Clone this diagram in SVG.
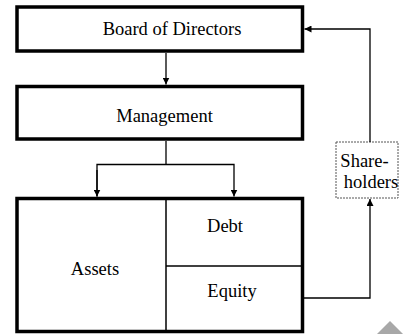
<svg xmlns="http://www.w3.org/2000/svg" width="403" height="334" viewBox="0 0 403 334">
<defs>
<style>
.box{fill:#fff;stroke:#000;stroke-width:3.5}
.div{fill:none;stroke:#000;stroke-width:1.5}
.lbl{font-family:"Liberation Serif","Times New Roman",serif;font-size:18.5px;fill:#000;text-anchor:middle}
.con{fill:none;stroke:#000;stroke-width:1.3}
.sh{fill:#fff;stroke:#555;stroke-width:1;stroke-dasharray:2 1}
</style>
<marker id="ah" viewBox="0 0 8 8" refX="8" refY="4" markerWidth="7" markerHeight="7" markerUnits="userSpaceOnUse" orient="auto">
<path d="M0,0 L8,4 L0,8 Z" fill="#000"/>
</marker>
</defs>
<rect width="403" height="334" fill="#fff"/>
<g id="board">
<rect class="box" x="17" y="7" width="285.5" height="44"/>
<text class="lbl" x="172" y="35">Board of Directors</text>
</g>
<g id="management">
<rect class="box" x="17" y="86.5" width="285.5" height="52.5"/>
<text class="lbl" x="164.5" y="122">Management</text>
</g>
<g id="balance">
<rect class="box" x="17" y="198.5" width="285.5" height="133"/>
<line class="div" x1="166" y1="198.5" x2="166" y2="331.5"/>
<line class="div" x1="166" y1="266" x2="302.5" y2="266"/>
<text class="lbl" x="95" y="275">Assets</text>
<text class="lbl" x="225" y="232">Debt</text>
<text class="lbl" x="232" y="297">Equity</text>
</g>
<g id="shareholders">
<rect class="sh" x="336" y="142" width="62" height="56"/>
<text class="lbl" x="364.5" y="167">Share-</text>
<text class="lbl" x="371" y="188">holders</text>
</g>
<g id="connectors">
<line class="con" x1="166" y1="53" x2="166" y2="84.5" marker-end="url(#ah)"/>
<line class="con" x1="166" y1="141" x2="166" y2="164.5"/>
<polyline class="con" points="97,196.5 97,164.5 234,164.5 234,196.5" marker-end="url(#ah)"/>
<line class="con" x1="97" y1="170" x2="97" y2="196.5" marker-end="url(#ah)"/>
<polyline class="con" points="304,298 370,298 370,199" marker-end="url(#ah)"/>
<polyline class="con" points="370,142 370,29 304.5,29" marker-end="url(#ah)"/>
</g>
<polygon points="390,321 377,334 403,334" fill="#a8a8a8"/>
</svg>
